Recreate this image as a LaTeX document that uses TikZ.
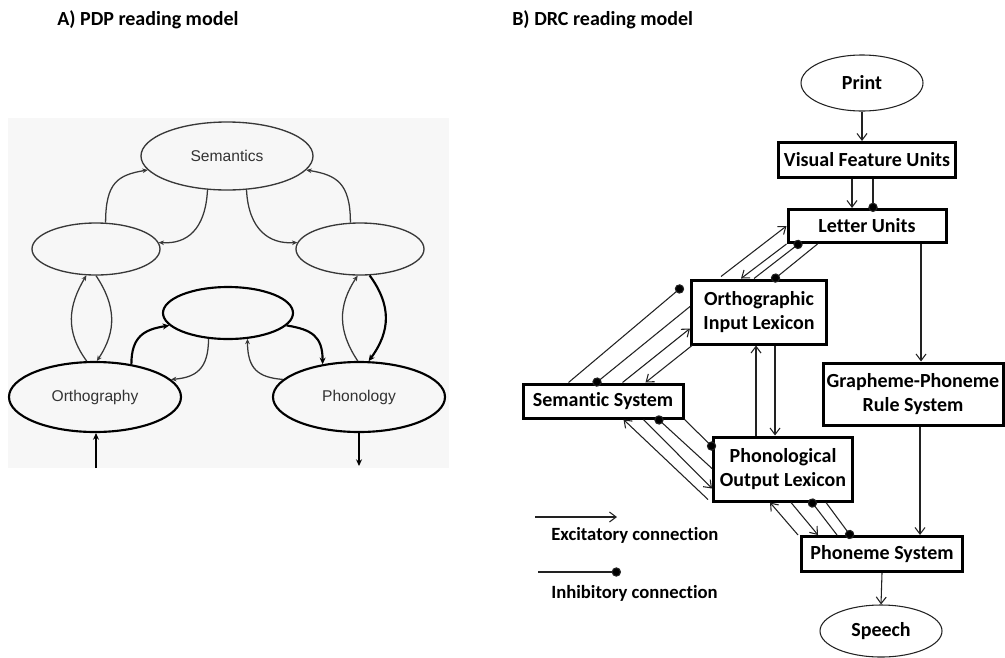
\documentclass[tikz,border=0pt]{standalone}
\usepackage{fontspec}
\newfontfamily\calib[Ligatures=NoCommon]{Carlito}
\newfontfamily\arial{Liberation Sans}
\usetikzlibrary{arrows.meta,calc,shapes.geometric}
\definecolor{pdpline}{HTML}{383838}
\definecolor{pdptext}{HTML}{333333}
\definecolor{pdpback}{HTML}{F7F7F7}
\definecolor{drcline}{HTML}{222222}
\begin{document}
\begin{tikzpicture}[x=0.75pt,y=-0.75pt,
    paneltitle/.style={font=\calib\bfseries\fontsize{15}{18}\selectfont, anchor=west, inner sep=0pt},
    pdp/.style={draw=pdpline, ellipse, inner sep=0pt, line width=1pt, text=pdptext,
      font=\arial\fontsize{11.7}{14}\selectfont},
    pdpthick/.style={pdp, draw=black, line width=1.6pt},
    lnk/.style={draw=pdpline, line width=0.95pt, -{Stealth[length=4pt,width=3.5pt]}},
    lnkthick/.style={draw=black, line width=1.6pt, -{Stealth[length=5pt,width=4.5pt]}},
    box/.style={draw, rectangle, line width=2.25pt, inner sep=1pt, align=center,
      font=\calib\bfseries\fontsize{15}{17.5}\selectfont},
    oval/.style={draw=drcline, ellipse, line width=0.8pt, inner sep=0pt,
      font=\calib\bfseries\fontsize{15}{18}\selectfont},
    exc/.style={draw=drcline, line width=0.8pt, -{Straight Barb[length=5pt,width=7.5pt]}},
    inh/.style={draw=drcline, line width=0.8pt, -{Circle[length=7pt,fill=black]}, shorten >=-3pt},
    legtext/.style={font=\calib\bfseries\fontsize{14}{16}\selectfont, anchor=west, inner sep=0pt},
  ]
  \useasboundingbox (0,0) rectangle (1005,657);

  % A) PDP model
  \node[paneltitle] (ta) at (57,20) {A) PDP reading model};
  \fill[pdpback] (8,118) rectangle (449,468);
  \node[pdp, minimum width=129pt, minimum height=51pt] (sem) at (227,156) {Semantics};
  \node[pdp, minimum width=96pt, minimum height=39pt] (lmid) at (96,249) {};
  \node[pdp, minimum width=96pt, minimum height=39pt] (rmid) at (360,249) {};
  \node[pdpthick, minimum width=97.5pt, minimum height=39pt] (hid) at (228,313) {};
  \node[pdpthick, minimum width=129pt, minimum height=52.5pt] (orth) at (95,397) {Orthography};
  \node[pdpthick, minimum width=129pt, minimum height=52.5pt] (phon) at (359,397) {Phonology};

  \draw[lnk] (lmid.70) .. controls +(0,-40) and +(-30,5) .. (sem.190);
  \draw[lnk] (sem.-120) .. controls +(-2,40) and +(28,2) .. (lmid.6);
  \draw[lnk] (sem.-60) .. controls +(2,40) and +(-28,2) .. (rmid.174);
  \draw[lnk] (rmid.110) .. controls +(0,-40) and +(30,5) .. (sem.-10);

  \draw[lnk] (orth.103) .. controls +(-22,-30) and +(-18,30) .. (lmid.-110);
  \draw[lnk] (lmid.-90) .. controls +(20,30) and +(20,-30) .. (orth.87);
  \draw[lnk] (phon.92) .. controls +(-20,-30) and +(-20,30) .. (rmid.-95);
  \draw[lnkthick] (rmid.-70) .. controls +(22,30) and +(22,-30) .. (phon.75);

  \draw[lnkthick] (orth.42) .. controls +(0,-28) and +(-25,4) .. (hid.192);
  \draw[lnk] (hid.-127) .. controls +(0,30) and +(25,-2) .. (orth.13);
  \draw[lnkthick] (hid.-12) .. controls +(25,4) and +(0,-28) .. (phon.138);
  \draw[lnk] (phon.167) .. controls +(-25,-2) and +(0,30) .. (hid.-53);

  \coordinate (inp) at (96,468);
  \draw[lnkthick] (inp) -- (inp |- orth.south);
  \coordinate (outp) at (359,466);
  \draw[lnkthick] (phon.south) -- (outp);

  % B) DRC model
  \node[paneltitle] (tb) at (512,20) {B) DRC reading model};
  \node[oval, minimum width=91.5pt, minimum height=42pt] (print) at (862,83) {Print};
  \node[box, minimum width=132.75pt, minimum height=26.25pt] (vfu) at (867,160) {Visual Feature Units};
  \node[box, minimum width=118.5pt, minimum height=24.75pt] (lu) at (867,226) {Letter Units};
  \node[box, minimum width=101.25pt, minimum height=48pt] (oil) at (759,312) {Orthographic\\Input Lexicon};
  \node[box, minimum width=135pt, minimum height=46.5pt] (gpc) at (913,394) {Grapheme-Phoneme\\Rule System};
  \node[box, minimum width=120pt, minimum height=25.5pt] (semsys) at (603,401) {Semantic System};
  \node[box, minimum width=104.25pt, minimum height=48pt] (pol) at (783,469) {Phonological\\Output Lexicon};
  \node[box, minimum width=120.75pt, minimum height=26.25pt] (ps) at (882,554) {Phoneme System};
  \node[oval, minimum width=91.5pt, minimum height=39pt] (speech) at (881,631) {Speech};

  \draw[exc] (print.south) -- (print.south |- vfu.north);
  \draw[exc] ($(vfu.south)+(-15,0)$) -- ($(lu.north)+(-15,0)$);
  \draw[inh] ($(vfu.south)+(6,0)$) -- ($(lu.north)+(6,0)$);

  \draw[exc] ($(oil.north west)+(31,-2)$) -- (lu.west);
  \draw[exc] (lu.south west) -- ($(oil.north west)+(51,0)$);
  \draw[inh] ($(oil.north west)+(64,0)$) -- ($(lu.south west)+(12,0)$);
  \draw[inh] ($(lu.south west)+(31,0)$) -- ($(oil.north west)+(85,0)$);

  \draw[inh] ($(semsys.north west)+(47,0)$) -- ($(oil.north west)+(-10,10)$);
  \draw[inh] ($(oil.north west)+(0,28)$) -- ($(semsys.north west)+(75,0)$);
  \draw[exc] ($(semsys.north west)+(101,0)$) -- ($(oil.north west)+(0,50)$);
  \draw[exc] ($(oil.south west)+(2,0)$) -- ($(semsys.north west)+(124,0)$);

  \draw[exc] ($(pol.south west)+(-4,-3)$) -- ($(semsys.south west)+(102,0)$);
  \draw[exc] ($(semsys.south west)+(122,0)$) -- ($(pol.south west)+(0,-14)$);
  \draw[inh] ($(pol.north west)+(0,33)$) -- ($(semsys.south west)+(137,0)$);
  \draw[inh] (semsys.south east) -- ($(pol.north west)+(0,11)$);

  \draw[exc] ($(ps.north west)+(-2,0)$) -- ($(pol.south west)+(58,0)$);
  \draw[exc] ($(pol.south west)+(79,0)$) -- ($(ps.north west)+(18,0)$);
  \draw[inh] ($(ps.north west)+(37,0)$) -- ($(pol.south west)+(100,0)$);
  \draw[inh] ($(pol.south west)+(114,0)$) -- ($(ps.north west)+(50,0)$);

  \coordinate (up) at ($(oil.south)+(-3,0)$);
  \draw[exc] (up |- pol.north) -- (up);
  \coordinate (down) at ($(oil.south)+(16,0)$);
  \draw[exc] (down) -- (down |- pol.north);

  \coordinate (gpcin) at ($(gpc.north)+(8,0)$);
  \draw[exc] (gpcin |- lu.south) -- (gpcin);
  \coordinate (gpcout) at ($(gpc.south)+(7,0)$);
  \draw[exc] (gpcout) -- (gpcout |- ps.north);
  \draw[exc] (ps.south) -- (speech.north);

  % legend
  \coordinate (exa) at (535,517);
  \coordinate (exb) at (617,517);
  \draw[exc] (exa) -- (exb);
  \node[legtext] (exl) at (551,535) {Excitatory connection};
  \coordinate (ina) at (538,572);
  \coordinate (inb) at (617,572);
  \draw[inh] (ina) -- (inb);
  \node[legtext] (inl) at (551,593) {Inhibitory connection};
\end{tikzpicture}
\end{document}
